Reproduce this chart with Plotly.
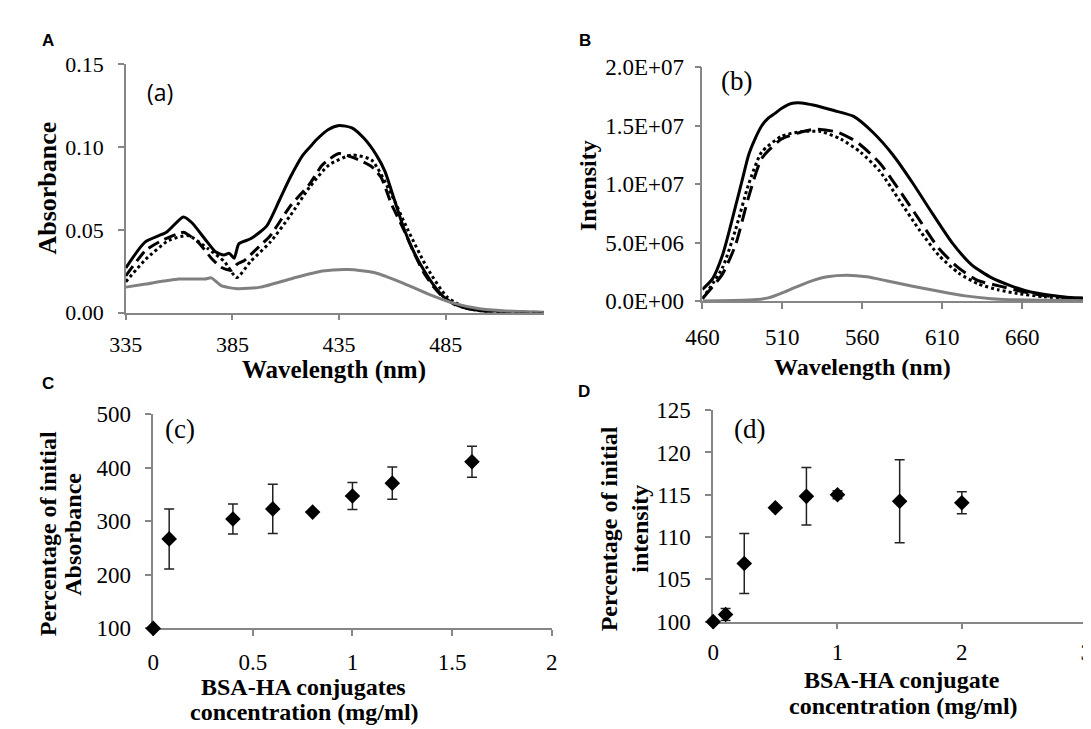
import plotly.graph_objects as go

W, H = 1091, 729

# ---------------- Panel A: absorbance spectra ----------------
a_wl_solid = [335, 344, 354, 362, 366, 372, 377, 381, 383.5, 385.8, 388, 393.5, 401, 407, 412, 418,
              422, 424, 430, 435, 441, 447, 452.5, 456.5, 461, 465.5, 470, 475, 479.5, 484, 490, 498,
              507, 520, 531]
a_abs_solid = [0.027, 0.0426, 0.0485, 0.0578, 0.0543, 0.0446, 0.0368, 0.0348, 0.0358, 0.0329, 0.0416,
               0.0446, 0.0523, 0.0679, 0.0815, 0.0952, 0.101, 0.104, 0.1107, 0.1131, 0.1117, 0.1049,
               0.0952, 0.0854, 0.0679, 0.0504, 0.0368, 0.0251, 0.0163, 0.0095, 0.0047, 0.0018,
               0.0004, 0.0002, 0.0001]

a_wl_dash = [335, 344.4, 352, 362, 364.3, 368.9, 375.1, 379.7, 384.3, 387.3, 390.4, 396.5, 402.7, 411.9,
             421.1, 427.2, 434.9, 442.6, 450.2, 454.8, 459.4, 465.6, 470.2, 474.8, 479.4, 484, 490.1,
             497.8, 507, 520, 531]
a_abs_dash = [0.0222, 0.0377, 0.0436, 0.0485, 0.047, 0.0426, 0.0329, 0.0274, 0.0255, 0.0294, 0.0313,
              0.0387, 0.0465, 0.064, 0.0776, 0.0893, 0.0961, 0.0932, 0.0883, 0.0815, 0.066, 0.0494,
              0.0358, 0.0239, 0.0154, 0.0091, 0.0043, 0.0018, 0.0003, 0.0002, 0.0001]

a_wl_dot = [335, 344.4, 355.1, 364.3, 373.5, 381.2, 387, 393.5, 402.7, 411.9, 421.1, 430.3, 441,
            450.2, 459.4, 467.1, 476.3, 485.6, 494.8, 503, 513.2, 522, 531]
a_abs_dot = [0.0187, 0.0323, 0.0436, 0.0465, 0.0387, 0.0309, 0.0212, 0.0309, 0.0426, 0.0582, 0.0757,
             0.0893, 0.0952, 0.0922, 0.0718, 0.0504, 0.027, 0.0095, 0.0027, 0.0008, 0.0002, 0.0001, 0.0]

a_wl_gray = [335, 344.4, 359.7, 372, 375.1, 379.7, 387.3, 398.1, 413.4, 427.2, 439.5, 451.8, 464.1,
             476.3, 488.6, 500.9, 513.2, 525.4, 531]
a_abs_gray = [0.0154, 0.0173, 0.0203, 0.0203, 0.021, 0.0163, 0.0144, 0.0154, 0.0208, 0.0251, 0.026,
              0.0241, 0.0183, 0.0115, 0.0057, 0.0023, 0.001, 0.0003, 0.0002]

a_xticks = [335, 385, 435, 485]

# ---------------- Panel B: fluorescence spectra ----------------
b_wl_solid = [460, 466.3, 472.5, 476.6, 480.7, 484.8, 488.9, 493, 497.1, 501.2, 505.4, 509.4, 515.6,
              522, 530, 542.3, 554.6, 566.9, 579.2, 591.5, 603.8, 616.1, 628.4, 640.7, 653, 665.3,
              677.6, 690, 700]
b_int_solid = [1.0e6, 1.9e6, 3.9e6, 5.9e6, 8.1e6, 10.3e6, 12.5e6, 13.9e6, 15.0e6, 15.65e6, 16.06e6,
               16.47e6, 16.9e6, 16.95e6, 16.75e6, 16.3e6, 15.8e6, 14.4e6, 12.5e6, 10.1e6, 7.5e6,
               5.0e6, 3.1e6, 2.0e6, 1.3e6, 0.77e6, 0.5e6, 0.3e6, 0.25e6]

b_wl_dash = [460, 472.5, 480.7, 488.9, 497.1, 509.5, 521.8, 530, 544.4, 556.7, 571, 583.3, 595.6,
             607.9, 620.2, 632.5, 644.8, 657.1, 673.5, 700]
b_int_dash = [0.2e6, 2.3e6, 4.8e6, 8.9e6, 12.2e6, 13.86e6, 14.46e6, 14.7e6, 14.46e6, 13.6e6, 11.8e6,
              9.45e6, 6.97e6, 4.49e6, 2.83e6, 1.74e6, 1.32e6, 0.9e6, 0.47e6, 0.2e6]

b_wl_dot = [460, 472.5, 480.7, 488.9, 497.1, 509.5, 521.8, 534, 546.5, 558.8, 571, 583.3, 595.6,
            607.9, 620.2, 632.5, 644.8, 657.1, 673.5, 700]
b_int_dot = [0.2e6, 2.83e6, 6.1e6, 10.0e6, 12.75e6, 14.1e6, 14.5e6, 14.5e6, 13.86e6, 12.75e6, 11.1e6,
             8.6e6, 6.1e6, 3.9e6, 2.4e6, 1.46e6, 0.97e6, 0.64e6, 0.36e6, 0.1e6]

b_wl_gray = [460, 488.9, 501.2, 513.5, 525.8, 538.1, 550.4, 562.7, 575, 591.5, 607.9, 624.3, 640.7,
             657.1, 700]
b_int_gray = [0.0, 0.08e6, 0.27e6, 0.9e6, 1.6e6, 2.07e6, 2.2e6, 2.07e6, 1.74e6, 1.27e6, 0.83e6,
              0.44e6, 0.2e6, 0.1e6, 0.03e6]

b_xticks = [460, 510, 560, 610, 660]
b_yticks = [0, 5e6, 1e7, 1.5e7, 2e7]
b_yticktext = ["0.0E+00", "5.0E+06", "1.0E+07", "1.5E+07", "2.0E+07"]

# ---------------- Panel C: absorbance vs concentration ----------------
c_conc = [0, 0.08, 0.4, 0.6, 0.8, 1.0, 1.2, 1.6]
c_pct = [100, 267, 304, 323, 317, 347, 371, 411]
c_err = [0, 56, 28, 46, 0, 25, 30, 29]

# ---------------- Panel D: intensity vs concentration ----------------
d_conc = [0, 0.1, 0.25, 0.5, 0.75, 1.0, 1.5, 2.0]
d_pct = [100, 100.84, 106.87, 113.47, 114.81, 115.0, 114.24, 114.05]
d_err = [0, 0.7, 3.55, 0, 3.4, 0.48, 4.9, 1.3]


def fx(px):
    return px / W


def fy(py):
    return 1 - py / H


SERIF = "Liberation Serif"
AXC = "#868686"

fig = go.Figure()

line_styles = [
    ("solid", "black", 3),
    ("dash", "black", 3),
    ("dot", "black", 3),
    ("solid", "#808080", 3),
]

for (wl, val), (dash, col, w) in zip(
        [(a_wl_solid, a_abs_solid), (a_wl_dash, a_abs_dash), (a_wl_dot, a_abs_dot), (a_wl_gray, a_abs_gray)],
        line_styles):
    fig.add_trace(go.Scatter(x=wl, y=val, mode="lines", xaxis="x", yaxis="y",
                             line=dict(color=col, width=w, dash=dash if dash != "dash" else "12px,6px",
                                       shape="spline", smoothing=0.6),
                             showlegend=False, hoverinfo="skip"))

for (wl, val), (dash, col, w) in zip(
        [(b_wl_solid, b_int_solid), (b_wl_dash, b_int_dash), (b_wl_dot, b_int_dot), (b_wl_gray, b_int_gray)],
        line_styles):
    fig.add_trace(go.Scatter(x=wl, y=val, mode="lines", xaxis="x2", yaxis="y2",
                             line=dict(color=col, width=w, dash=dash if dash != "dash" else "15px,7px",
                                       shape="spline", smoothing=0.6),
                             showlegend=False, hoverinfo="skip"))

fig.add_trace(go.Scatter(x=c_conc, y=c_pct, mode="markers", xaxis="x3", yaxis="y3",
                         marker=dict(symbol="diamond", size=12, color="black"),
                         error_y=dict(type="data", array=c_err, visible=True, color="#222222",
                                      thickness=1.5, width=5),
                         cliponaxis=False, showlegend=False))

fig.add_trace(go.Scatter(x=d_conc, y=d_pct, mode="markers", xaxis="x4", yaxis="y4",
                         marker=dict(symbol="diamond", size=12, color="black"),
                         error_y=dict(type="data", array=d_err, visible=True, color="#222222",
                                      thickness=1.5, width=5),
                         cliponaxis=False, showlegend=False))


def axis_style(size):
    return dict(showgrid=False, zeroline=False, showline=True, linecolor=AXC, linewidth=1.5,
                ticks="outside", ticklen=6, tickcolor=AXC, tickwidth=1.5,
                tickfont=dict(family=SERIF, size=size, color="black"), layer="below traces",
                ticklabeloverflow="allow")


fig.update_layout(
    width=W, height=H,
    margin=dict(l=0, r=0, t=0, b=0),
    paper_bgcolor="white", plot_bgcolor="white",
    showlegend=False,
    xaxis=dict(domain=[fx(103), fx(530)], anchor="y", range=[335, 531], tickvals=a_xticks,
               ticklabelstandoff=5, **axis_style(22)),
    yaxis=dict(domain=[fy(303), fy(46)], anchor="x", range=[0, 0.15], dtick=0.05, tickformat=".2f",
               ticklabelstandoff=10, **axis_style(22)),
    xaxis2=dict(domain=[fx(692), fx(1084)], anchor="y2", range=[460, 700], tickvals=b_xticks,
                ticklabelstandoff=9, **axis_style(23)),
    yaxis2=dict(domain=[fy(291), fy(49)], anchor="x2", range=[0, 2e7], tickvals=b_yticks,
                ticktext=b_yticktext, ticklabelstandoff=6, **axis_style(23)),
    xaxis3=dict(domain=[fx(131), fx(538)], anchor="y3", range=[0, 2], dtick=0.5,
                ticklabelstandoff=6, **axis_style(23)),
    yaxis3=dict(domain=[fy(630), fy(408)], anchor="x3", range=[100, 500], dtick=100,
                ticklabelstandoff=10, **axis_style(23)),
    xaxis4=dict(domain=[fx(703), fx(1084)], anchor="y4", range=[0, 3], dtick=1,
                ticklabelstandoff=3, **axis_style(23)),
    yaxis4=dict(domain=[fy(623), fy(404)], anchor="x4", range=[100, 125], dtick=5,
                ticklabelstandoff=10, **axis_style(23)),
)

ann = []


def add_text(text, x, y, size, bold=False, family=SERIF, angle=0):
    t = f"<b>{text}</b>" if bold else text
    ann.append(dict(text=t, x=fx(x), y=fy(y), xref="paper", yref="paper", xanchor="center",
                    yanchor="middle", showarrow=False, textangle=angle,
                    font=dict(family=family, size=size, color="black")))


# panel letters
for letter, x, y in [("A", 23, 21), ("B", 572, 21), ("C", 23, 376), ("D", 571, 385)]:
    add_text(letter, x, y, 17, bold=True, family="Liberation Sans")

# inner labels
add_text("(a)", 138, 75, 23, family="Open Sans")
add_text("(b)", 727, 63, 27)
add_text("(c)", 158, 424, 27)
add_text("(d)", 740, 424, 27)

# axis titles
add_text("Absorbance", 22, 174, 26, bold=True, angle=-90)
add_text("Wavelength (nm)", 316, 362, 25, bold=True)
add_text("Intensity", 575, 171, 24, bold=True, angle=-90)
add_text("Wavelength (nm)", 856, 359, 24, bold=True)

add_text("Percentage of initial", 23, 532, 24, bold=True, angle=-90)
add_text("Absorbance", 49, 532, 24, bold=True, angle=-90)
add_text("BSA-HA conjugates", 284, 691, 24, bold=True)
add_text("concentration (mg/ml)", 286, 717, 24, bold=True)

add_text("Percentage of initial", 597, 527, 24, bold=True, angle=-90)
add_text("intensity", 628, 527, 24, bold=True, angle=-90)
add_text("BSA-HA conjugate", 896, 683, 24, bold=True)
add_text("concentration (mg/ml)", 897, 710, 24, bold=True)

fig.update_layout(annotations=ann)

fig.write_html("out.html")
